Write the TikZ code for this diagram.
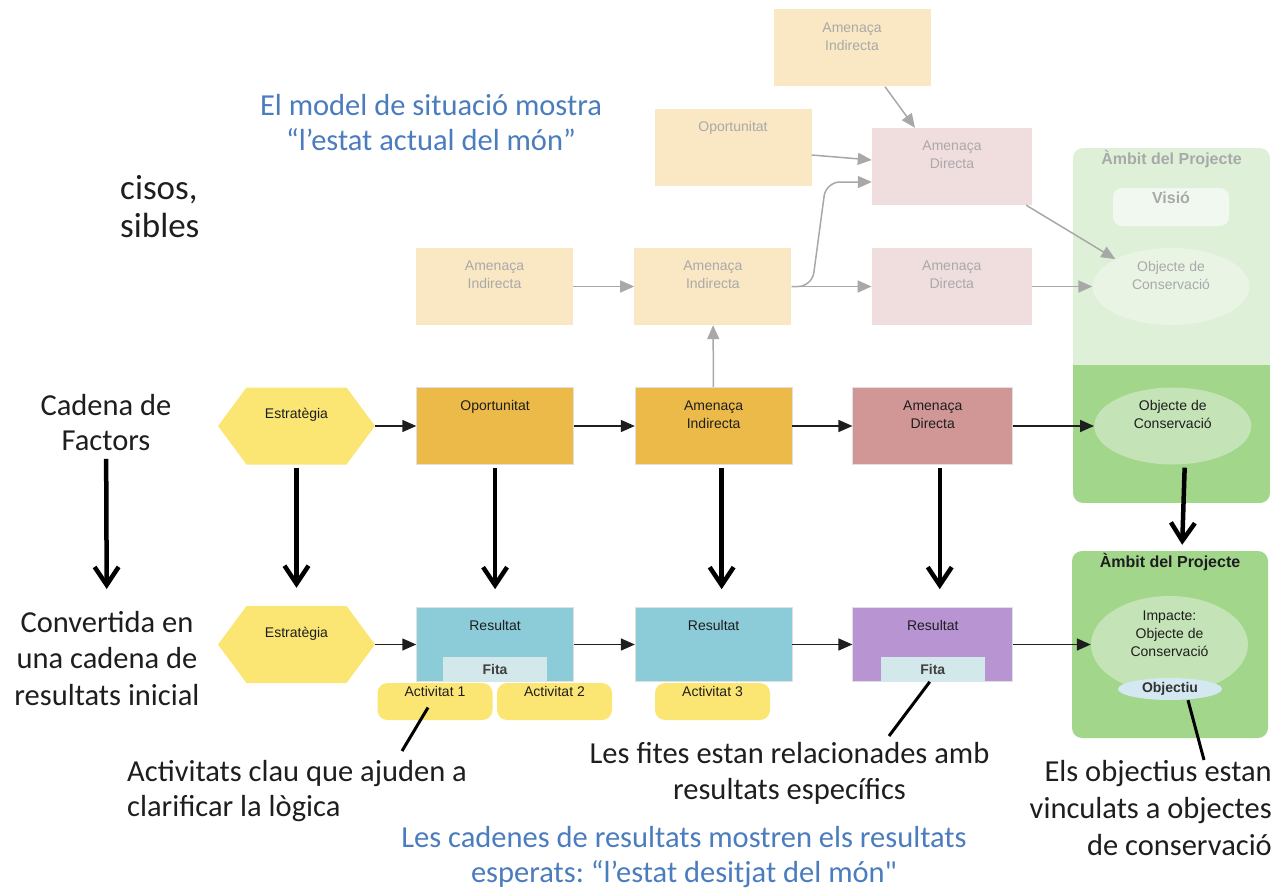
\documentclass[tikz,border=0pt]{standalone}
\usepackage{fontspec}
\setmainfont{Carlito}
\newfontfamily\rawfont{Carlito}[Ligatures=TeXOff]
\newfontfamily\boxfont{Liberation Sans}
\usetikzlibrary{positioning,shapes.geometric,shapes.symbols,arrows.meta}
\frenchspacing

\definecolor{cFadeYellow}{HTML}{F9E8C3}
\definecolor{cFadePink}{HTML}{F0DDDE}
\definecolor{cFadeText}{HTML}{A9A9A9}
\definecolor{cFadeGreen}{HTML}{DFF0D8}
\definecolor{cFadeOval}{HTML}{E9F4E5}
\definecolor{cVisio}{HTML}{F1F8EF}
\definecolor{cPanel}{HTML}{A1D68B}
\definecolor{cOval}{HTML}{C4E3B6}
\definecolor{cFactor}{HTML}{ECBA48}
\definecolor{cThreat}{HTML}{D19696}
\definecolor{cStrat}{HTML}{FBE673}
\definecolor{cResult}{HTML}{8BCCD8}
\definecolor{cResultB}{HTML}{B894D2}
\definecolor{cFita}{HTML}{D2E8EA}
\definecolor{cGoal}{HTML}{D3E8F0}
\definecolor{cBlue}{HTML}{4A7CBE}
\definecolor{cInk}{HTML}{1E1E1E}
\definecolor{cArrow}{HTML}{A8A8A8}

\begin{document}
\begin{tikzpicture}[x=1pt, y=-1pt]
    \tikzstyle{lbl} = [font=\boxfont\fontsize{14}{18}\selectfont, text=cInk, align=center, anchor=north, inner sep=0pt, yshift=-13pt];
    \tikzstyle{flbl} = [lbl, text=cFadeText];
    \tikzstyle{title} = [lbl, font=\boxfont\bfseries\fontsize{16}{18}\selectfont];
    \tikzstyle{plainbox} = [rectangle, minimum width=157pt, minimum height=77pt];
    \tikzstyle{fadebox} = [plainbox, fill=cFadeYellow];
    \tikzstyle{fadethreat} = [plainbox, minimum width=160pt, fill=cFadePink];
    \tikzstyle{factor} = [plainbox, fill=cFactor, draw=black!12, line width=0.6pt];
    \tikzstyle{threat} = [plainbox, minimum width=160pt, fill=cThreat, draw=black!12, line width=0.6pt];
    \tikzstyle{result} = [plainbox, minimum height=74pt, fill=cResult, draw=black!12, line width=0.6pt];
    \tikzstyle{hexa} = [signal, signal to=east and west, signal pointer angle=107, minimum width=157pt, minimum height=77pt, fill=cStrat];
    \tikzstyle{oval} = [ellipse, minimum width=157pt, minimum height=77pt];
    \tikzstyle{fita} = [rectangle, minimum width=104pt, minimum height=25pt, inner sep=0pt, fill=cFita, font=\boxfont\bfseries\fontsize{14}{16}\selectfont, text=black!75];
    \tikzstyle{act} = [rectangle, rounded corners=10pt, minimum width=115pt, minimum height=37pt, fill=cStrat];
    \tikzstyle{panel} = [rectangle, rounded corners=10pt, fill=cPanel];
    \tikzstyle{note} = [font=\fontsize{30.5}{36.5}\selectfont, text=cInk, align=center, inner sep=0pt];
    \tikzstyle{bluenote} = [note, text=cBlue, font=\fontsize{30.5}{35.5}\selectfont];
    \tikzstyle{flow} = [-{Triangle[length=14pt,width=12pt]}, line width=1.5pt, cInk];
    \tikzstyle{fadeflow} = [flow, cArrow];
    \tikzstyle{bigdown} = [-{Straight Barb[length=18pt,width=24pt]}, line width=4.5pt, black, shorten <=3pt, shorten >=18pt];
    \tikzstyle{pointer} = [line width=3pt, black];

    \useasboundingbox (0,0) rectangle (1278,891);

    % ambit del projecte (top, faded part)
    \begin{scope}
        \clip[rounded corners=10pt] (1073,148) rectangle (1270,503);
        \fill[cFadeGreen] (1073,148) rectangle (1270,365);
        \fill[cPanel] (1073,365) rectangle (1270,503);
    \end{scope}
    \node[title, text=cFadeText, anchor=center, yshift=13pt] (amb1t) at (1171.5,159) {Àmbit del Projecte};
    \node[rectangle, rounded corners=9pt, minimum width=116pt, minimum height=38pt, fill=cVisio,
          label={[title, text=cFadeText, yshift=9pt]north:Visió}] (visio) at (1171,207) {};

    % model de situacio
    \node[fadebox, label={[flbl]north:Amenaça\\Indirecta}] (fIndTop) at (852,48) {};
    \node[fadebox, label={[flbl]north:Oportunitat}] (fOpp) at (733,147) {};
    \node[fadethreat, label={[flbl]north:Amenaça\\Directa}] (fDirTop) at (952,166.5) {};
    \node[fadebox, label={[flbl]north:Amenaça\\Indirecta}] (fInd1) at (494.5,286.5) {};
    \node[fadebox, right=61pt of fInd1, label={[flbl]north:Amenaça\\Indirecta}] (fInd2) {};
    \node[fadethreat, right=80pt of fInd2, label={[flbl]north:Amenaça\\Directa}] (fDir2) {};
    \node[oval, fill=cFadeOval, label={[flbl]north:Objecte de\\Conservació}] (fObj) at (1171,286.5) {};

    \draw[fadeflow] (fInd1) -- (fInd2);
    \draw[fadeflow] (fInd2) -- (fDir2);
    \draw[fadeflow] (fDir2) -- (fObj);
    \draw[fadeflow, rounded corners=14pt] (fInd2.east) -- (812,286.5) -- (826,182) -- ([yshift=-15.5pt]fDirTop.west);
    \draw[fadeflow] ([yshift=-8pt]fOpp.east) -- ([yshift=6.5pt]fDirTop.west);
    \draw[fadeflow] ([xshift=33pt]fIndTop.south) -- ([xshift=-37pt]fDirTop.north);
    \draw[fadeflow] ([xshift=-6pt]fDirTop.south east) -- (fObj.north west);

    % cadena de factors
    \node[hexa, label={[lbl, yshift=-8pt]north:Estratègia}] (strat) at (296.5,426) {};
    \node[factor, right=41pt of strat, label={[lbl]north:Oportunitat}] (opp) {};
    \node[factor, right=61pt of opp, label={[lbl]north:Amenaça\\Indirecta}] (ind) {};
    \node[threat, right=60pt of ind, label={[lbl]north:Amenaça\\Directa}] (dir) {};
    \node[oval, fill=cOval, right=81pt of dir, label={[lbl]north:Objecte de\\Conservació}] (obj) {};

    \draw[fadeflow] (ind) -- (fInd2);
    \draw[flow] (strat) -- (opp);
    \draw[flow] (opp) -- (ind);
    \draw[flow] (ind) -- (dir);
    \draw[flow] (dir) -- (obj);

    % cadena de resultats
    \node[hexa, label={[lbl, yshift=-8pt]north:Estratègia}] (strat2) at (296.5,644.5) {};
    \node[result, right=41pt of strat2, label={[lbl]north:Resultat}] (res1) {};
    \node[result, right=61pt of res1, label={[lbl]north:Resultat}] (res2) {};
    \node[result, fill=cResultB, minimum width=160pt, right=60pt of res2, label={[lbl]north:Resultat}] (res3) {};
    \node[fita, above=0pt of res1.south] (fita1) {Fita};
    \node[fita, above=0pt of res3.south] (fita3) {Fita};
    \node[act, label={[lbl, yshift=10pt]north:Activitat 1}] (act1) at (435,701.5) {};
    \node[act, label={[lbl, yshift=10pt]north:Activitat 2}] (act2) at (554.5,701.5) {};
    \node[act, label={[lbl, yshift=10pt]north:Activitat 3}] (act3) at (712.5,701.5) {};

    \node[panel, minimum width=196pt, minimum height=187pt,
          label={[title, yshift=11pt]north:Àmbit del Projecte}] (amb2) at (1170,644.5) {};
    \node[oval, fill=cOval, minimum height=97pt, label={[lbl, yshift=-2pt]north:Impacte:\\Objecte de\\Conservació}] (imp) at (1169.5,644.5) {};
    \node[ellipse, minimum width=104pt, minimum height=22pt, inner sep=0pt, fill=cGoal,
          font=\boxfont\bfseries\fontsize{14}{16}\selectfont, text=black!80] (goal) at (1170,689) {Objectiu};

    \draw[flow] (strat2) -- (res1);
    \draw[flow] (res1) -- (res2);
    \draw[flow] (res2) -- (res3);
    \draw[flow] (res3) -- (imp);

    % de factors a resultats
    \draw[bigdown] (strat) -- (strat2);
    \draw[bigdown] (opp) -- (res1);
    \draw[bigdown] ([xshift=8pt]ind.south) -- ([xshift=8pt]res2.north);
    \draw[bigdown] ([xshift=7pt]dir.south) -- ([xshift=7pt]res3.north);
    \draw[bigdown, shorten >=6pt] ([xshift=12pt]obj.south) -- ([xshift=12pt]amb2.north);

    % textos
    \node[note, align=left, anchor=north west, font=\fontsize{35}{38}\selectfont] (cut) at (120,175) {cisos,\\sibles};
    \node[bluenote, anchor=north] (sitnote) at (431,94) {El model de situació mostra\\“l’estat actual del món”};
    \node[note, anchor=north, font=\fontsize{30.5}{35}\selectfont] (cadena) at (106,394) {Cadena de\\Factors};
    \node[note, anchor=north] (conv) at (107,611) {Convertida en\\una cadena de\\resultats inicial};
    \node[note, align=left, anchor=north west, font=\fontsize{30.5}{35}\selectfont] (actnote) at (127,760) {Activitats clau que ajuden a\\clarificar la lògica};
    \node[note, anchor=north] (fitnote) at (789.5,742) {Les fites estan relacionades amb\\resultats específics};
    \node[note, align=right, anchor=north east, font=\fontsize{30.5}{37}\selectfont] (goalnote) at (1272,760) {Els objectius estan\\vinculats a objectes\\de conservació};
    \node[bluenote, anchor=north] (resnote) at (684,826) {Les cadenes de resultats mostren els resultats\\esperats: “l’estat desitjat del món{\rawfont"}};

    \draw[bigdown, shorten <=8pt, shorten >=22pt] (cadena) -- (conv);

    % crides
    \coordinate (actTip) at (402,751);
    \coordinate (fitTip) at (889,736);
    \coordinate (goalTip) at (1204,760);
    \draw[pointer] ([shift={(-7pt,-6pt)}]act1.center) -- (actTip);
    \draw[pointer] ([xshift=-3pt]fita3.south) -- (fitTip);
    \draw[pointer] ([xshift=18pt]goal.south) -- (goalTip);
\end{tikzpicture}
\end{document}
